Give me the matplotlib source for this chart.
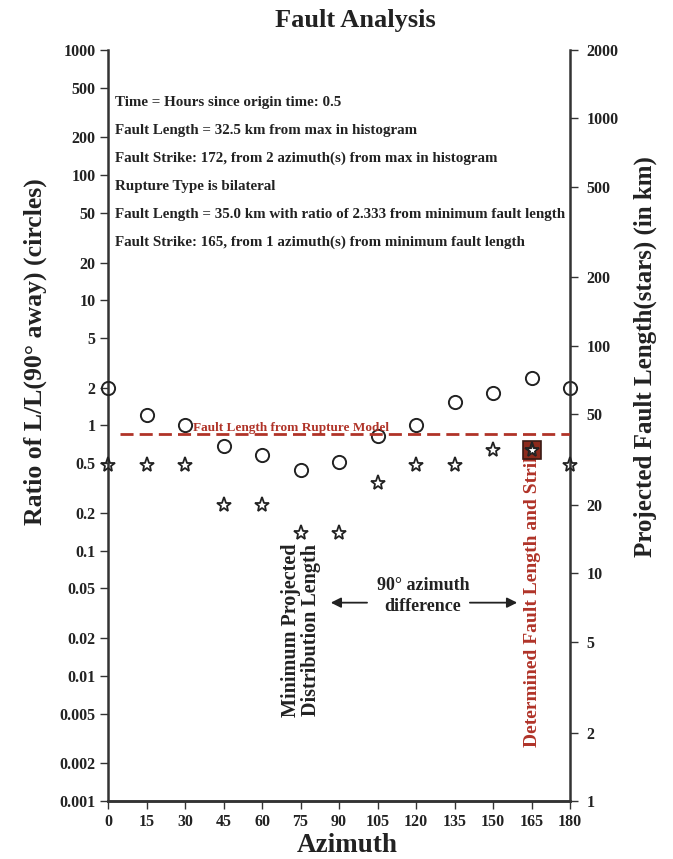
import numpy as np
import matplotlib
matplotlib.use('Agg')
import matplotlib.pyplot as plt
from matplotlib.ticker import FixedLocator, NullLocator

plt.rcParams['font.family'] = ['Liberation Serif', 'DejaVu Serif']
plt.rcParams['font.weight'] = 'bold'

azimuth = [0, 15, 30, 45, 60, 75, 90, 105, 120, 135, 150, 165, 180]
ratio_circles = [2.0, 1.22, 1.0, 0.68, 0.58, 0.44, 0.51, 0.83, 1.0, 1.53, 1.80, 2.38, 2.0]
length_stars = [30, 30, 30, 20, 20, 15, 15, 25, 30, 30, 35, 35, 30]
rupture_length = 41
best_azimuth = 165
best_length = 35

left_ticks = [1000, 500, 200, 100, 50, 20, 10, 5, 2, 1, 0.5, 0.2, 0.1,
              0.05, 0.02, 0.01, 0.005, 0.002, 0.001]
left_labels = ['1000', '500', '200', '100', '50', '20', '10', '5', '2', '1', '0.5',
               '0.2', '0.1', '0.05', '0.02', '0.01', '0.005', '0.002', '0.001']
right_ticks = [2000, 1000, 500, 200, 100, 50, 20, 10, 5, 2, 1]
right_labels = [str(t) for t in right_ticks]
x_ticks = list(range(0, 181, 15))

info_lines = [
    'Time = Hours since origin time: 0.5',
    'Fault Length = 32.5 km from max in histogram',
    'Fault Strike: 172, from 2 azimuth(s) from max in histogram',
    'Rupture Type is bilateral',
    'Fault Length = 35.0 km with ratio of 2.333 from minimum fault length',
    'Fault Strike: 165, from 1 azimuth(s) from minimum fault length',
]

red = '#b03328'
ink = '#222222'
axcol = '#333333'

fig = plt.figure(figsize=(6.73, 8.59), dpi=100)
ax = fig.add_axes([0.1605, 0.0675, 0.6865, 0.8745])
ax2 = ax.twinx()

ax.set_xlim(0, 180)
ax.set_yscale('log')
ax.set_ylim(0.001, 1000)
ax2.set_yscale('log')
ax2.set_ylim(1, 2000)

for a in (ax, ax2):
    a.spines['top'].set_visible(False)
    for s in ('left', 'right', 'bottom'):
        a.spines[s].set_color(axcol)
        a.spines[s].set_linewidth(1.8)
    a.yaxis.set_minor_locator(NullLocator())
    a.tick_params(axis='both', direction='out', length=6, width=1.0, color=axcol,
                  labelsize=11.5, labelcolor=ink, pad=3)
ax2.tick_params(axis='y', pad=6)

ax.spines['right'].set_visible(False)
ax2.spines['left'].set_visible(False)

ax.yaxis.set_major_locator(FixedLocator(left_ticks))
ax.set_yticklabels(left_labels)
ax2.yaxis.set_major_locator(FixedLocator(right_ticks))
ax2.set_yticklabels(right_labels)
ax.set_xticks(x_ticks)
ax.set_xticklabels([str(x) for x in x_ticks])

# circles: ratio against the azimuth 90 degrees away
ax.plot(azimuth, ratio_circles, linestyle='none', marker='o', markersize=9.5,
        markerfacecolor='none', markeredgecolor=ink, markeredgewidth=1.4,
        clip_on=False, zorder=5)

# rupture model length
ax2.axhline(rupture_length, xmin=0.025, xmax=1, color=red, linestyle=(0, (4.7, 2.2)),
            linewidth=2.0, zorder=3)
ax2.text(33, rupture_length * 1.0, 'Fault Length from Rupture Model', color=red,
         fontsize=9.5, ha='left', va='bottom', zorder=4)

# determined fault length box
ax2.plot([best_azimuth], [best_length], marker='s', markersize=13,
         markerfacecolor='#8c2a1c', markeredgecolor='#3a1a14', markeredgewidth=1.2,
         linestyle='none', zorder=6)

# stars: projected fault length
ax2.plot(azimuth, length_stars, linestyle='none', marker='*', markersize=11,
         markerfacecolor='none', markeredgecolor=ink, markeredgewidth=1.3,
         clip_on=False, zorder=7)
ax2.plot([best_azimuth], [best_length], linestyle='none', marker='*', markersize=8,
         markerfacecolor='white', markeredgecolor=ink, markeredgewidth=0.8,
         zorder=8)

for i, line in enumerate(info_lines):
    ax.text(0.015, 0.9294 - i * 0.0370, line, transform=ax.transAxes,
            fontsize=10.8, ha='left', va='center', color=ink)

ax.text(75.2, 0.0047, 'Minimum Projected\nDistribution Length', rotation=90,
        ha='center', va='bottom', fontsize=14.5, color=ink, linespacing=1.05)
ax.text(165.2, 0.0027, 'Determined Fault Length and Strike', rotation=90,
        ha='center', va='bottom', fontsize=14, color=red, zorder=2)
ax.text(122.7, 0.0437, '90° azimuth\ndifference', ha='center', va='center',
        fontsize=13, color=ink, linespacing=1.3)
ax.annotate('', xy=(85.7, 0.0384), xytext=(102, 0.0384),
            arrowprops=dict(arrowstyle='-|>', color=ink, lw=1.3, mutation_scale=15))
ax.annotate('', xy=(160.5, 0.0384), xytext=(139.9, 0.0384),
            arrowprops=dict(arrowstyle='-|>', color=ink, lw=1.3, mutation_scale=15))

fig.text(355 / 673, 1 - 20 / 859, 'Fault Analysis', fontsize=19, fontweight='bold',
         ha='center', va='center', color=ink)
fig.text(347 / 673, 1 - 845 / 859, 'Azimuth', fontsize=19.5, fontweight='bold',
         ha='center', va='center', color=ink)
fig.text(35 / 673, 1 - 352 / 859, 'Ratio of L/L(90° away) (circles)', fontsize=18.5,
         fontweight='bold', rotation=90, ha='center', va='center', color=ink)
fig.text(645 / 673, 1 - 357 / 859, 'Projected Fault Length(stars) (in km)', fontsize=18,
         fontweight='bold', rotation=90, ha='center', va='center', color=ink)

fig.savefig('out.png', dpi=100)
